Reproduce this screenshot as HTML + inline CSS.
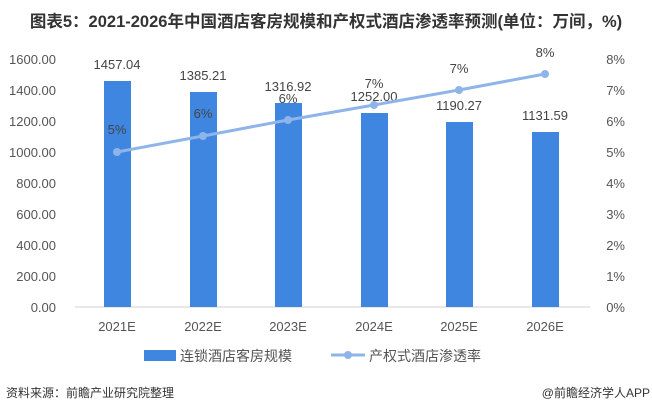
<!DOCTYPE html><html><head><meta charset="utf-8"><style>body{margin:0;background:#fff;width:652px;height:415px;overflow:hidden}</style></head><body>
<svg width="652" height="415" xmlns="http://www.w3.org/2000/svg" font-family="Liberation Sans, Noto Sans CJK SC, sans-serif">
<text x="326" y="27" text-anchor="middle" font-size="16.5" font-weight="bold" fill="#333">图表5：2021-2026年中国酒店客房规模和产权式酒店渗透率预测(单位：万间，%)</text>
<line x1="75" y1="307" x2="590" y2="307" stroke="#d0d0d0"/>
<g font-size="13" fill="#555" text-anchor="end">
<text x="56" y="64">1600.00</text><text x="56" y="95">1400.00</text><text x="56" y="126">1200.00</text><text x="56" y="157">1000.00</text><text x="56" y="188">800.00</text><text x="56" y="219">600.00</text><text x="56" y="250">400.00</text><text x="56" y="281">200.00</text><text x="56" y="312">0.00</text>
</g>
<g font-size="13" fill="#555" text-anchor="end">
<text x="625" y="64">8%</text><text x="625" y="95">7%</text><text x="625" y="126">6%</text><text x="625" y="157">5%</text><text x="625" y="188">4%</text><text x="625" y="219">3%</text><text x="625" y="250">2%</text><text x="625" y="281">1%</text><text x="625" y="312">0%</text>
</g>
<g fill="#3f86e0">
<rect x="104" y="81" width="27" height="226"/>
<rect x="190" y="92" width="27" height="215"/>
<rect x="275" y="103" width="27" height="204"/>
<rect x="361" y="113" width="27" height="194"/>
<rect x="446" y="122" width="27" height="185"/>
<rect x="532" y="132" width="27" height="175"/>
</g>
<g font-size="13" fill="#444" text-anchor="middle">
<text x="117" y="69">1457.04</text><text x="203" y="80">1385.21</text><text x="288" y="91">1316.92</text><text x="374" y="101">1252.00</text><text x="459" y="110">1190.27</text><text x="545" y="120">1131.59</text>
</g>
<polyline points="117,152 203,136 288,120 374,105 459,90 545,74" fill="none" stroke="#8fb4ea" stroke-width="3"/>
<g fill="#8fb4ea"><circle cx="117" cy="152" r="4"/><circle cx="203" cy="136" r="4"/><circle cx="288" cy="120" r="4"/><circle cx="374" cy="105" r="4"/><circle cx="459" cy="90" r="4"/><circle cx="545" cy="74" r="4"/></g>
<g font-size="13" fill="#444" text-anchor="middle">
<text x="117" y="134">5%</text><text x="203" y="118">6%</text><text x="288" y="103">6%</text><text x="374" y="88">7%</text><text x="459" y="73">7%</text><text x="545" y="57">8%</text>
</g>
<g font-size="13" fill="#555" text-anchor="middle">
<text x="117" y="331">2021E</text><text x="203" y="331">2022E</text><text x="288" y="331">2023E</text><text x="374" y="331">2024E</text><text x="459" y="331">2025E</text><text x="545" y="331">2026E</text>
</g>
<rect x="144" y="350" width="32" height="11" fill="#3f86e0"/>
<text x="180" y="361" font-size="14" fill="#555">连锁酒店客房规模</text>
<line x1="331" y1="355" x2="365" y2="355" stroke="#8fb4ea" stroke-width="3"/><circle cx="348" cy="355" r="4" fill="#8fb4ea"/>
<text x="369" y="361" font-size="14" fill="#555">产权式酒店渗透率</text>
<text x="6" y="397" font-size="12" fill="#333">资料来源：前瞻产业研究院整理</text>
<text x="650" y="397" font-size="12" fill="#333" text-anchor="end">@前瞻经济学人APP</text>
</svg>
</body></html>
